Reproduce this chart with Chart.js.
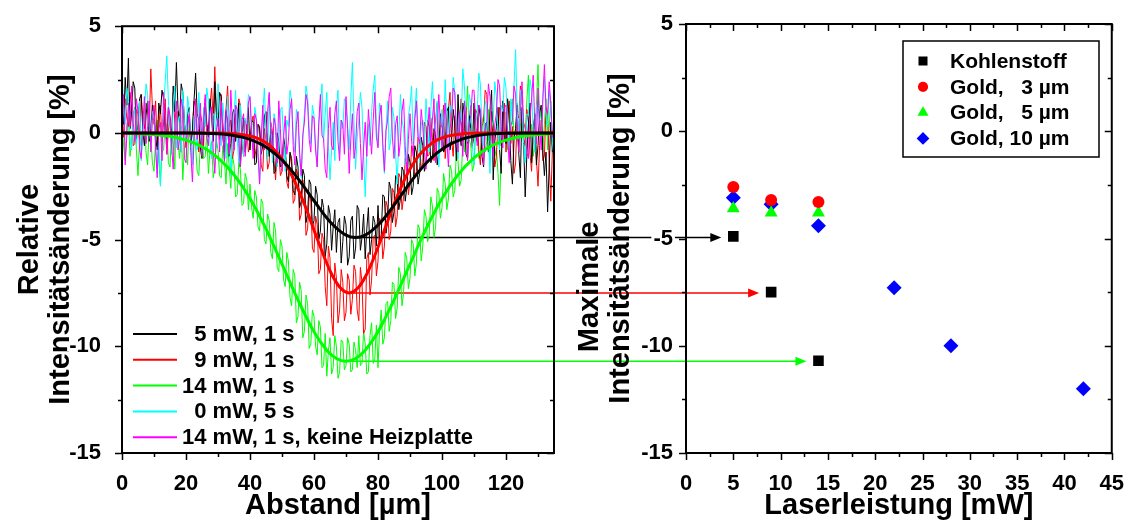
<!DOCTYPE html>
<html>
<head>
<meta charset="utf-8">
<title>Intensitätsänderung</title>
<script src="https://cdn.jsdelivr.net/npm/chart.js@4.4.0/dist/chart.umd.min.js"></script>
<style>
  html, body { margin: 0; padding: 0; background: #fff; }
  #wrap { position: relative; width: 1134px; height: 524px; }
  #wrap canvas { position: absolute; top: 0; }
  #arrows { left: 0; }
  #left { left: 0; }
  #right { left: 560px; }
</style>
</head>
<body>
<div id="wrap">
  <canvas id="arrows" width="1134" height="524"></canvas>
  <canvas id="left" width="560" height="524"></canvas>
  <canvas id="right" width="574" height="524"></canvas>
</div>
<script>
/* ---------- Messdaten: Profil (links), Abstand 0 ... 135 µm in 0.5 µm Schritten ---------- */
var p5mW = [
  1.2, 0.4, 2.6, 1.3, 3.5, 0.2, 1.0, 2.4, 2.1, -0.3, 0.4, 1.6, 1.8, 0.1, -0.6, 0.8, 1.5, -0.4, 0.2, 1.3,
  1.1, -0.2, -0.8, 1.4, 0.9, 2.0, 1.6, 0.1, -0.3, 1.2, 0.7, -0.5, 2.2, 1.0, 3.3, 1.1, 0.5, 2.3, 1.9, 0.6,
  -0.4, 0.9, 1.2, -0.6, 0.1, 1.5, 2.8, 0.9, 0.6, -0.7, -1.2, 0.3, 1.4, 0.4, -0.2, 1.6, 0.8, -0.4, 2.4, 0.8,
  0.3, 1.9, 1.7, -0.2, -0.9, 1.0, 0.6, -1.1, -0.5, 0.9, 1.1, -0.4, 0.2, 1.4, -1.6, -0.1, 0.7, -0.9, 0.1, 1.2,
  -0.8, 0.6, 0.5, -1.5, -1.4, 0.4, 0.3, -1.0, -0.6, 0.8, 1.0, -0.5, -1.1, 0.2, -0.2, -1.9, -1.8, 0.0, -0.4, -1.6,
  -1.5, -0.2, -0.7, -2.0, -2.3, -0.9, -1.2, -2.7, -2.9, -1.1, -1.6, -3.5, -3.2, -1.7, -2.0, -4.2, -3.8, -2.2, -2.4, -4.4,
  -4.1, -2.5, -2.9, -5.0, -4.6, -3.1, -3.5, -5.8, -5.2, -3.4, -3.8, -5.5, -4.4, -3.6, -5.6, -4.2, -4.0, -6.1, -5.1, -3.9,
  -4.3, -6.2, -5.8, -4.1, -3.9, -5.9, -5.4, -3.4, -3.6, -5.5, -4.9, -3.8, -5.9, -4.5, -3.5, -5.7, -5.0, -3.9, -4.2, -5.3,
  -3.4, -5.1, -4.8, -2.9, -3.0, -4.7, -4.1, -2.3, -2.6, -4.2, -3.7, -2.0, -2.2, -3.6, -3.1, -1.6, -1.8, -3.2, -2.6, -1.0,
  -1.4, -2.9, -2.5, -0.6, -0.9, -2.4, -1.9, -0.2, -0.6, -1.8, -1.5, 0.6, 0.3, -1.4, -1.2, 0.2, -0.2, -1.5, -0.9, 0.9,
  0.6, -0.9, -0.7, 1.0, 1.2, -0.8, -0.3, 1.1, 0.4, -1.3, 1.8, 0.1, -0.6, 1.4, 0.9, -1.0, -1.2, 0.8, 0.2, -0.7,
  1.4, -0.1, -0.4, 1.3, 0.7, -1.1, -1.6, 0.4, 0.5, -0.9, 1.1, 2.0, -2.2, -0.4, 0.3, 1.2, -0.8, -1.9, 1.5, -0.2,
  -0.5, 1.6, 0.8, -1.3, -2.4, -0.3, 0.2, 1.3, -1.0, -2.1, 1.2, -0.4, -3.0, -1.1, 0.4, 1.4, -1.4, -0.2, 0.9, -1.5,
  -0.6, 0.9, 1.3, -0.8, -2.0, -0.9, -3.7, -1.6, 0.5, -0.9, -0.3
];
var p9mW = [
  0.8, -0.2, 1.6, 0.7, 0.3, 1.9, 1.2, -0.6, -0.5, 1.1, 0.9, -0.3, 1.8, 0.6, 0.2, 1.4, 1.1, 0.1, 3.0, 1.2,
  0.4, 1.5, -0.6, 0.2, 1.3, -0.4, 0.5, 1.6, -1.0, 0.1, 0.7, -0.8, 1.9, 0.5, -0.3, 1.0, 0.6, -0.9, 1.4, 0.3,
  -0.7, 0.5, 0.8, -0.5, 0.1, 1.5, 1.2, -0.2, -0.9, 0.9, 0.5, -0.6, 1.6, 0.4, 0.2, 1.3, 2.1, 0.6, 3.1, 1.0,
  0.9, -0.3, 1.8, 0.5, -0.4, 1.1, 2.2, 0.3, 0.6, -1.2, -0.8, 0.9, 0.4, 1.6, 1.3, -0.5, -1.1, 0.6, 0.3, -0.9,
  -0.6, 0.5, 0.8, -0.7, -1.2, 0.4, 0.2, -1.5, -1.8, 0.2, -0.3, -1.7, -1.4, 0.5, 0.1, -1.3, -2.2, -0.4, -0.9, -2.0,
  -1.8, -0.6, -0.7, -2.3, -2.6, -1.0, -1.5, -3.3, -3.1, -1.7, -2.0, -4.1, -3.8, -2.2, -2.7, -4.8, -4.5, -2.9, -3.2, -5.4,
  -5.6, -3.9, -4.3, -6.6, -6.4, -4.7, -5.0, -7.2, -8.1, -5.3, -5.9, -8.7, -9.5, -6.1, -6.8, -8.9, -8.3, -6.4, -7.0, -8.8,
  -8.4, -6.6, -6.9, -8.5, -7.8, -6.2, -6.5, -8.3, -8.8, -6.3, -7.0, -9.4, -9.2, -5.9, -5.6, -7.6, -6.9, -4.9, -4.8, -6.7,
  -6.0, -4.0, -4.2, -5.9, -5.3, -3.2, -3.5, -5.0, -4.6, -2.6, -2.8, -4.4, -3.9, -1.9, -2.1, -3.6, -3.0, -1.2, -1.5, -2.9,
  -2.3, -0.6, -0.9, -2.1, -1.8, -0.2, -0.4, -1.7, -1.4, 0.5, 0.3, -1.1, -1.0, 0.7, -0.2, -1.3, 0.6, 1.4, -0.8, 0.2,
  0.4, 1.3, -1.2, -0.1, 1.1, 1.9, -0.3, -1.1, 0.8, 0.0, -0.9, 0.7, 1.6, -0.4, 0.2, 1.2, -0.5, 0.6, 1.3, -0.6,
  -0.2, 1.1, 0.9, -0.8, -1.5, 0.3, 0.6, 2.0, 1.8, -0.3, -0.7, 1.0, 0.4, -1.6, -1.1, 0.5, 1.2, -0.6, 0.1, 1.4,
  -0.9, 0.4, 1.5, -0.5, 0.3, -1.9, -1.4, 0.8, 0.7, 2.2, 1.9, -0.2, -0.6, 1.1, 0.5, -1.0, -1.8, 0.3, 0.8, -1.2,
  -2.5, -0.6, 0.6, -1.3, -1.1, 1.2, 1.0, -1.4, -3.2, -0.8, 0.2
];
var p14mW = [
  0.5, -0.6, -1.3, 0.4, 0.8, -1.1, -0.4, 0.9, 1.2, -0.8, -2.0, -0.3, -0.6, 0.5, 0.9, -0.9, -1.5, 0.3, -0.2, -1.4,
  -1.8, -0.3, 0.6, -1.2, -2.4, -0.9, -0.8, 0.5, 0.3, -1.4, -1.6, 0.2, -0.5, -1.7, 1.0, -0.4, -1.2, 0.3, -2.2, -0.7,
  -0.3, -1.5, 0.7, -0.6, -1.4, 0.1, -0.6, -1.8, -2.0, -0.5, 0.2, -1.2, -1.1, 0.0, -1.9, -0.8, -0.4, -2.1, -1.6, -0.3,
  -0.8, -2.0, -2.1, -0.6, -1.3, -2.4, -0.5, -1.6, -2.6, -1.0, -1.5, -3.0, -2.9, -1.4, -1.7, -3.4, -3.3, -1.9, -2.2, -3.6,
  -2.4, -3.5, -4.0, -2.7, -3.0, -4.4, -4.6, -3.1, -3.3, -5.0, -5.2, -3.8, -4.1, -5.6, -5.9, -4.2, -4.6, -6.3, -6.5, -5.0,
  -5.3, -6.9, -7.2, -5.6, -6.0, -7.7, -8.1, -6.4, -6.7, -8.9, -8.6, -7.0, -7.4, -9.6, -9.3, -7.6, -8.0, -10.1, -9.9, -8.3,
  -8.6, -10.0, -10.4, -8.8, -9.1, -11.0, -10.9, -9.4, -11.4, -10.2, -9.6, -11.3, -11.0, -9.5, -10.0, -11.5, -11.2, -9.7, -9.8, -11.1,
  -10.9, -9.6, -9.9, -11.2, -11.1, -9.8, -10.2, -11.0, -9.5, -10.9, -10.8, -9.3, -9.9, -11.3, -11.2, -9.5, -8.9, -10.8, -10.6, -9.0,
  -11.0, -9.2, -8.3, -9.9, -9.6, -8.0, -7.9, -9.3, -8.8, -7.0, -7.1, -8.7, -8.2, -6.3, -6.6, -8.1, -7.5, -5.6, -5.9, -7.3,
  -6.8, -5.0, -5.2, -6.7, -6.1, -4.3, -4.5, -6.0, -5.3, -3.6, -3.9, -5.1, -4.8, -3.0, -3.4, -4.9, -4.4, -2.6, -2.8, -4.0,
  -3.5, -1.9, -2.4, -3.6, -3.1, -1.5, -1.8, -3.0, -2.7, -0.8, -1.3, -2.5, -2.2, -0.4, -0.9, 0.8, 2.2, -0.3, -0.6, -1.8,
  -1.5, 0.1, 0.2, -1.2, -1.0, 0.5, 0.8, -0.9, -0.4, 1.1, -1.3, 0.2, 0.6, -1.1, -0.7, -1.9, -3.4, -1.0, -0.2, 1.0,
  0.9, -0.8, -0.6, 1.2, 1.6, -0.3, 0.1, 1.4, -0.9, 0.3, 1.1, -0.7, -0.3, 1.5, 2.7, 0.2, 0.4, -1.1, -0.5, 1.3,
  3.2, 0.6, 1.0, -0.9, 0.4, 1.6, -0.8, 0.2, 1.5, -0.6, 0.3
];
var p0mW = [
  2.9, 1.2, 0.4, 2.1, 1.6, -0.2, -0.8, 0.7, 1.1, -0.6, 0.2, 1.5, -1.3, -0.1, 0.9, 2.3, 1.8, 0.2, -0.5, 1.0,
  0.7, -0.6, -1.9, -0.4, -2.5, 0.1, 1.2, 2.4, 3.6, 1.5, 0.3, -1.0, 1.4, 2.2, -0.7, 0.6, 0.8, -0.9, 2.0, 0.5,
  -0.4, 1.7, 1.1, -0.3, -1.5, 0.8, 0.6, -0.8, 1.9, 0.4, -0.9, 1.2, 0.3, 2.1, 1.5, -0.5, -1.2, 0.9, 0.8, -0.7,
  2.3, 0.8, -0.6, 1.4, 0.5, -1.2, 1.7, 0.2, -2.0, -0.4, 0.9, 2.0, -0.3, -1.4, 1.3, 0.1, -1.1, 0.7, 0.4, 1.8,
  1.6, 0.2, -0.8, 1.2, 0.7, -1.0, -2.3, -0.5, 1.0, 2.1, -0.2, -1.3, 1.8, 0.4, -1.4, 0.9, 0.5, -1.6, -0.7, 1.1,
  1.2, -0.4, -1.8, 0.6, 0.3, 2.0, 1.5, -0.1, -0.9, 1.1, 0.6, -1.2, -2.1, -0.3, 0.9, 2.2, 1.7, 0.2, -0.5, 1.3,
  0.8, -0.7, -1.6, 0.4, 1.3, 2.3, -0.4, 0.9, 1.9, -0.6, -2.2, -0.8, 0.5, -1.3, 1.1, 2.0, -1.0, 0.6, 0.2, 1.6,
  1.4, 0.3, -0.8, 1.6, 3.3, 0.5, -1.7, -0.2, 0.6, 1.9, 1.2, -1.1, -3.0, -0.9, 0.4, -0.6, 1.0, 2.0, 2.7, 0.3,
  -0.6, 1.4, 0.9, -0.7, -1.9, 0.2, 1.5, -0.8, -0.3, 1.2, 0.7, -1.0, -2.4, -0.2, 1.8, 0.6, 0.2, -1.5, -1.1, 0.8,
  1.3, 2.2, -0.5, 0.9, 2.1, 0.2, -1.4, 0.4, 0.6, -0.7, 1.6, 0.3, -0.9, 1.1, 2.4, 0.8, 0.1, 1.5, -1.6, 0.0,
  1.1, -0.3, 2.5, 0.6, -0.7, 1.3, 0.8, 2.6, 1.9, 0.2, -1.2, 0.9, 0.5, 3.0, 2.2, 0.7, -0.4, 1.8, 1.4, -0.6,
  -1.5, 0.4, 0.9, 2.8, 2.3, 0.1, -0.6, 1.5, 1.2, -0.3, -1.9, 0.2, 0.6, 2.4, 1.7, -0.2, -0.8, 1.3, 1.0, 2.6,
  2.1, 0.3, -1.0, 1.6, 0.4, 2.2, 3.9, 1.0, -0.3, 2.0, 1.3, -0.5, -1.4, 0.9, 0.8, 2.5, 2.0, 0.1, -0.9, 1.2,
  1.5, 0.2, -0.5, 1.7, 2.6, 0.8, 0.3, 2.0, 1.1, -0.4, -1.2
];
var p14mWohne = [
  0.6, 1.8, -1.5, -0.2, 1.4, 0.3, 2.2, 0.5, -0.4, 1.6, 1.0, -0.8, -1.2, 0.4, 1.7, -0.5, 0.3, 1.5, -0.9, 0.6,
  1.3, -0.7, -2.1, 0.2, 0.5, -1.3, 1.9, 0.4, -1.0, 1.2, 0.8, -0.6, -1.7, 0.3, 1.5, -0.8, -0.3, 1.6, 1.1, -1.2,
  -1.4, 0.3, 0.9, -0.9, -2.3, -0.4, 1.6, -0.3, 0.2, 1.4, -1.1, 0.6, 1.8, -0.2, -0.6, 1.0, 1.2, -0.8, -1.9, 0.1,
  0.7, -0.9, 1.5, 0.2, -1.3, 1.1, 0.4, -1.0, 2.0, 0.5, -0.8, 1.3, 1.1, -0.5, -1.6, 0.6, 0.9, -1.1, -0.2, 1.4,
  1.7, 0.1, -1.2, 0.9, 0.6, -0.9, -2.4, -0.3, 1.3, -0.8, -0.5, 1.0, 1.9, -0.2, -1.0, 0.7, 0.3, -1.4, 1.5, 0.2,
  -1.8, -0.2, 0.8, -1.0, -0.4, 1.1, 1.6, -0.6, -1.5, 0.4, 1.0, -0.9, -2.0, -0.1, 0.5, 1.8, 1.4, -0.3, -0.9, 0.8,
  0.7, -0.8, -1.6, 0.5, 1.8, -0.1, -0.3, -1.7, -2.1, 0.2, 1.2, -0.6, -0.8, 0.9, 1.5, -0.4, -1.3, 0.6, 0.4, -1.0,
  1.7, 0.2, -1.9, -0.3, 0.9, -1.2, -0.6, 1.0, 1.4, -0.5, -2.2, -0.7, 0.5, -1.1, 1.1, 0.1, -1.0, 0.6, 1.9, -0.2,
  -0.7, 0.8, 1.3, -0.5, -1.8, 0.1, 0.6, 1.7, 2.1, -0.2, -1.2, 0.4, 0.8, -1.1, -0.4, 1.0, 1.6, -0.6, -2.0, -0.3,
  0.9, -0.4, -1.1, 0.6, 1.5, -0.2, -0.5, 1.1, 0.3, -0.9, -1.7, 0.1, 1.2, -0.6, 0.6, 1.6, -1.4, 0.0, 1.8, 0.4,
  -0.8, 0.5, 1.4, -0.3, -1.6, 0.2, 0.7, 2.1, 1.9, 0.0, -0.9, 1.0, 0.2, -1.1, 1.5, 0.3, -1.3, 0.4, 0.8, 2.0,
  2.0, 0.6, -0.6, 1.3, 1.1, -0.4, -1.5, 0.2, 0.5, 2.3, 1.7, 0.1, -1.1, 0.4, 0.9, 2.5, 2.2, 0.3, -0.7, 1.2,
  1.3, -0.2, -1.4, 0.3, 0.6, 2.2, 1.8, -0.1, -0.9, 1.0, 2.4, 0.5, 0.2, -0.9, -1.2, 0.7, 1.6, 2.7, 0.4, -0.5,
  2.1, 0.3, -0.8, 1.5, 3.2, 1.1, 0.9, 2.4, 1.4, -0.2, 0.5
];
var abstand = p5mW.map(function (v, i) { return i * 0.5; });

// Gauss-Fits
var fit5X  = [0, 20, 30, 35, 40, 45, 50, 55, 60, 65, 70, 73, 76, 81, 86, 91, 96, 101, 106, 111, 116, 126, 135];
var fit5Y  = [0, 0, -0.04, -0.12, -0.3, -0.66, -1.27, -2.14, -3.18, -4.16, -4.79, -4.9, -4.79, -4.16, -3.18, -2.14, -1.27, -0.66, -0.3, -0.12, -0.04, 0, 0];
var fit9X  = [0, 21, 31, 36, 41, 45, 49, 53, 57, 61, 65, 68, 71, 74, 77, 81, 85, 89, 93, 97, 101, 106, 111, 121, 135];
var fit9Y  = [0, 0, -0.01, -0.05, -0.18, -0.46, -1.02, -1.97, -3.34, -4.96, -6.46, -7.22, -7.5, -7.22, -6.46, -4.96, -3.34, -1.97, -1.02, -0.46, -0.18, -0.05, -0.01, 0, 0];
var fit14X = [0, 5, 15, 20, 25, 30, 35, 40, 45, 50, 55, 60, 64, 67, 70, 73, 76, 80, 85, 90, 95, 100, 105, 110, 115, 120, 125, 135];
var fit14Y = [0, -0.03, -0.16, -0.34, -0.65, -1.17, -1.96, -3.07, -4.5, -6.15, -7.83, -9.32, -10.18, -10.57, -10.7, -10.57, -10.18, -9.32, -7.83, -6.15, -4.5, -3.07, -1.96, -1.17, -0.65, -0.34, -0.16, -0.03];

/* ---------- Maxima (rechts) ---------- */
var kohleP = [5, 9, 14];
var kohleI = [-4.9, -7.5, -10.7];
var gold3P = [5, 9, 14];
var gold3I = [-2.6, -3.2, -3.3];
var gold5P = [5, 9, 14];
var gold5I = [-3.6, -3.8, -3.8];
var gold10P = [5, 9, 14, 22, 28, 42];
var gold10I = [-3.1, -3.4, -4.4, -7.3, -10.0, -12.0];

var yTicks = [5, 0, -5, -10, -15];

var FONT = '"Liberation Sans", Arial, Helvetica, sans-serif';
Chart.defaults.font.family = FONT;
Chart.defaults.font.weight = 'bold';
Chart.defaults.font.size = 22;
Chart.defaults.color = '#000';

function pts(xs, ys) {
  return xs.map(function (x, i) { return { x: x, y: ys[i] }; });
}

// Rahmen mit Teilstrichen auf allen vier Seiten
var frameTicks = {
  id: 'frameTicks',
  afterDatasetsDraw: function (chart, args, o) {
    var ctx = chart.ctx, a = chart.chartArea, x = chart.scales.x, y = chart.scales.y;
    ctx.save();
    ctx.strokeStyle = '#000';
    ctx.lineWidth = 2;
    ctx.strokeRect(a.left, a.top, a.right - a.left, a.bottom - a.top);
    ctx.lineWidth = 1.5;
    ctx.beginPath();
    var n = Math.round((x.max - x.min) / o.xMinor);
    for (var i = 0; i <= n; i++) {
      var v = x.min + i * o.xMinor;
      var px = Math.round(x.getPixelForValue(v)) + 0.5;
      var len = (Math.abs(v / o.xMajor - Math.round(v / o.xMajor)) < 1e-6) ? 7 : 4;
      ctx.moveTo(px, a.bottom); ctx.lineTo(px, a.bottom + len);
      ctx.moveTo(px, a.top); ctx.lineTo(px, a.top + len);
    }
    var m = Math.round((y.max - y.min) / 2.5);
    for (var j = 0; j <= m; j++) {
      var w = y.min + j * 2.5;
      var py = Math.round(y.getPixelForValue(w)) + 0.5;
      var l2 = (w % 5 === 0) ? 7 : 4;
      ctx.moveTo(a.left, py); ctx.lineTo(a.left - l2, py);
      ctx.moveTo(a.right, py); ctx.lineTo(a.right - l2, py);
    }
    ctx.stroke();
    ctx.restore();
  }
};

// Legende innerhalb des Diagramms
var innerLegend = {
  id: 'innerLegend',
  afterDraw: function (chart, args, o) {
    var ctx = chart.ctx;
    ctx.save();
    if (o.box) {
      ctx.lineWidth = 1.5;
      ctx.strokeStyle = '#000';
      ctx.fillStyle = '#fff';
      ctx.fillRect(o.box[0], o.box[1], o.box[2], o.box[3]);
      ctx.strokeRect(o.box[0], o.box[1], o.box[2], o.box[3]);
    }
    ctx.font = 'bold ' + o.fontSize + 'px ' + FONT;
    ctx.textBaseline = 'middle';
    ctx.textAlign = 'left';
    var k = 0;
    chart.data.datasets.forEach(function (ds) {
      if (!ds.label) return;
      var y = o.y + k * o.row;
      k++;
      if (o.marker) {
        ctx.fillStyle = ds.backgroundColor;
        ctx.strokeStyle = ds.borderColor;
        Chart.helpers.drawPoint(ctx, { pointStyle: ds.pointStyle, radius: ds.legendRadius, rotation: 0, borderWidth: 0 }, o.x + o.symbolW / 2, y);
      } else {
        ctx.strokeStyle = ds.borderColor;
        ctx.lineWidth = 2;
        ctx.beginPath();
        ctx.moveTo(o.x, y);
        ctx.lineTo(o.x + o.symbolW, y);
        ctx.stroke();
      }
      ctx.fillStyle = '#000';
      ctx.fillText(ds.label, o.textX, y + 1);
    });
    ctx.restore();
  }
};

function yScale(width, pad, title) {
  return {
    type: 'linear', min: -15, max: 5,
    afterFit: function (s) { s.width = width; },
    grid: { display: false }, border: { display: false },
    afterBuildTicks: function (s) { s.ticks = yTicks.map(function (v) { return { value: v }; }); },
    ticks: { padding: pad, textStrokeColor: '#fff', textStrokeWidth: 6 },
    title: { display: true, text: title, font: { size: 29, weight: 'bold', lineHeight: 1.08 }, padding: { top: 14 } }
  };
}

function xScale(max, step, title) {
  return {
    type: 'linear', min: 0, max: max,
    afterFit: function (s) { s.height = 71; },
    grid: { display: false }, border: { display: false },
    ticks: { stepSize: step, includeBounds: false, padding: 10, maxRotation: 0 },
    title: { display: true, text: title, font: { size: 29, weight: 'bold', lineHeight: 1.05 }, padding: { bottom: 3 } }
  };
}

function noisy(label, data, color, order) {
  return { label: label, data: pts(abstand, data), borderColor: color, backgroundColor: color,
           borderWidth: 1, pointRadius: 0, tension: 0, order: order };
}
function fit(xs, ys, color) {
  return { label: '', data: pts(xs, ys), borderColor: color, borderWidth: 3, pointRadius: 0,
           cubicInterpolationMode: 'monotone', order: 0 };
}

var leftChart = new Chart(document.getElementById('left'), {
  type: 'line',
  data: {
    datasets: [
      noisy('  5 mW, 1 s', p5mW, '#000000', 3),
      noisy('  9 mW, 1 s', p9mW, '#ff0000', 4),
      noisy('14 mW, 1 s', p14mW, '#00ff00', 5),
      noisy('  0 mW, 5 s', p0mW, '#00ffff', 2),
      noisy('14 mW, 1 s, keine Heizplatte', p14mWohne, '#ff00ff', 1),
      fit(fit5X, fit5Y, '#000000'),
      fit(fit9X, fit9Y, '#ff0000'),
      fit(fit14X, fit14Y, '#00ff00')
    ]
  },
  options: {
    responsive: false, animation: false, devicePixelRatio: 1,
    layout: { padding: { top: 24, right: 6, left: 0, bottom: 0 } },
    plugins: {
      legend: { display: false }, tooltip: { enabled: false },
      frameTicks: { xMajor: 20, xMinor: 10 },
      innerLegend: { x: 133, symbolW: 44, textX: 182, y: 334, row: 25.8, fontSize: 22 }
    },
    scales: {
      x: xScale(135, 20, 'Abstand [µm]'),
      y: yScale(122, 13, ['Relative', 'Intensitätsänderung [%]'])
    }
  },
  plugins: [frameTicks, innerLegend]
});

function marks(label, xs, ys, color, style, r) {
  return { label: label, data: pts(xs, ys), backgroundColor: color, borderColor: color,
           pointStyle: style, pointRadius: r, legendRadius: r * 0.85, borderWidth: 0, showLine: false };
}

var rightChart = new Chart(document.getElementById('right'), {
  type: 'scatter',
  data: {
    datasets: [
      marks('Kohlenstoff', kohleP, kohleI, '#000000', 'rect', 7.5),
      marks('Gold,   3 µm', gold3P, gold3I, '#ff0000', 'circle', 6),
      marks('Gold,   5 µm', gold5P, gold5I, '#00ff00', 'triangle', 7.5),
      marks('Gold, 10 µm', gold10P, gold10I, '#0000ff', 'rectRot', 7.5)
    ]
  },
  options: {
    responsive: false, animation: false, devicePixelRatio: 1,
    layout: { padding: { top: 24, right: 16, left: 0, bottom: 0 } },
    plugins: {
      legend: { display: false }, tooltip: { enabled: false },
      frameTicks: { xMajor: 5, xMinor: 2.5 },
      innerLegend: { box: [343, 41, 196, 116], marker: true, x: 356, symbolW: 14, textX: 390, y: 61, row: 25.8, fontSize: 21 }
    },
    scales: {
      x: xScale(45, 5, 'Laserleistung [mW]'),
      y: yScale(126, 5, ['Maximale            ', 'Intensitätsänderung [%]'])
    }
  },
  plugins: [frameTicks, innerLegend]
});

// Pfeile vom Minimum der Fits zu den Kohlenstoff-Punkten
(function () {
  var ctx = document.getElementById('arrows').getContext('2d');
  var fits = [[fit5X, fit5Y, '#000000'], [fit9X, fit9Y, '#ff0000'], [fit14X, fit14Y, '#00ff00']];
  var offset = 560;
  fits.forEach(function (f, i) {
    var ys = f[1];
    var iMin = ys.indexOf(Math.min.apply(null, ys));
    var x0 = leftChart.scales.x.getPixelForValue(f[0][iMin]);
    var y0 = leftChart.scales.y.getPixelForValue(ys[iMin]);
    var x1 = offset + rightChart.scales.x.getPixelForValue(kohleP[i]) - 12;
    ctx.strokeStyle = f[2];
    ctx.fillStyle = f[2];
    ctx.lineWidth = 1.5;
    ctx.beginPath();
    ctx.moveTo(x0, y0);
    ctx.lineTo(x1 - 9, y0);
    ctx.stroke();
    ctx.beginPath();
    ctx.moveTo(x1, y0);
    ctx.lineTo(x1 - 11, y0 - 4.5);
    ctx.lineTo(x1 - 11, y0 + 4.5);
    ctx.closePath();
    ctx.fill();
  });
})();
</script>
</body>
</html>
